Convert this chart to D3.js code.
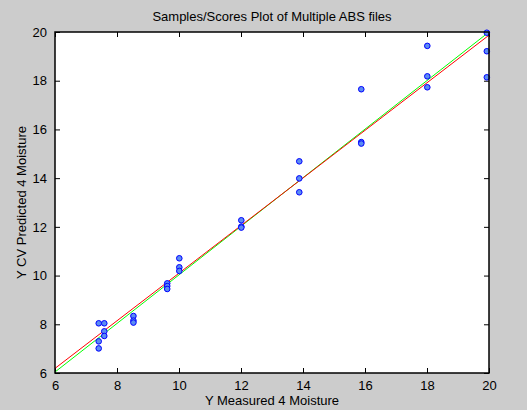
<!DOCTYPE html>
<html>
<head>
<meta charset="utf-8">
<script src="https://cdn.jsdelivr.net/npm/d3@7"></script>
<style>
  body { margin: 0; background: #cccccc; }
  svg text { font-family: "Liberation Sans", Arial, sans-serif; fill: #000; }
</style>
</head>
<body>
<svg id="scores" width="527" height="410"></svg>
<script>
// measured vs CV predicted moisture, 3 replicates per sample
const measured = [
  7.41, 7.41, 7.41,
  7.59, 7.59, 7.59,
  8.53, 8.53, 8.53,
  9.62, 9.62, 9.62,
  10.01, 10.01, 10.01,
  12.01, 12.01, 12.01,
  13.88, 13.88, 13.88,
  15.88, 15.88, 15.88,
  18.01, 18.01, 18.01,
  19.93, 19.93, 19.93
];
const predicted = [
  8.04, 7.30, 7.01,
  8.04, 7.71, 7.52,
  8.34, 8.15, 8.07,
  9.68, 9.57, 9.45,
  10.71, 10.34, 10.19,
  12.27, 12.01, 11.97,
  14.69, 13.99, 13.42,
  17.65, 15.48, 15.42,
  19.43, 18.18, 17.73,
  19.97, 19.21, 18.14
];
// reference lines (x ends, y ends)
const lineX = [6, 20];
const greenY = [6.04, 20.0];
const redY = [6.19, 19.87];
const ticks = [6, 8, 10, 12, 14, 16, 18, 20];

const svg = d3.select("svg#scores");
const margins = { top: 32, right: 38, bottom: 37, left: 55 };
const width = +svg.attr("width");
const height = +svg.attr("height");
const chartWidth = width - margins.left - margins.right;
const chartHeight = height - margins.top - margins.bottom;

const xScale = d3.scaleLinear().domain([6, 20]).range([0, chartWidth]);
const yScale = d3.scaleLinear().domain([6, 20]).range([chartHeight, 0]);

const chart = svg.append("g")
  .attr("transform", `translate(${margins.left},${margins.top})`);

chart.append("rect")
  .attr("width", chartWidth)
  .attr("height", chartHeight)
  .attr("fill", "white");

chart.append("clipPath").attr("id", "clip")
  .append("rect").attr("width", chartWidth).attr("height", chartHeight);

// axes, ticks pointing inward on all four sides
function styleAxis(g) {
  g.select(".domain").remove();
  g.selectAll("line").attr("stroke", "black");
  g.selectAll("text").attr("font-size", 13);
}
chart.append("g")
  .attr("transform", `translate(0,${chartHeight})`)
  .call(d3.axisBottom(xScale).tickValues(ticks).tickSizeInner(-5).tickSizeOuter(0).tickPadding(8))
  .call(styleAxis);
chart.append("g")
  .call(d3.axisTop(xScale).tickValues(ticks).tickSizeInner(-5).tickSizeOuter(0).tickFormat(""))
  .call(styleAxis);
chart.append("g")
  .call(d3.axisLeft(yScale).tickValues(ticks).tickSizeInner(-5).tickSizeOuter(0).tickPadding(8))
  .call(styleAxis);
chart.append("g")
  .attr("transform", `translate(${chartWidth},0)`)
  .call(d3.axisRight(yScale).tickValues(ticks).tickSizeInner(-5).tickSizeOuter(0).tickFormat(""))
  .call(styleAxis);

const lineGen = d3.line().x(d => xScale(d[0])).y(d => yScale(d[1]));
const lines = chart.append("g").attr("clip-path", "url(#clip)");
lines.append("path")
  .attr("d", lineGen(d3.zip(lineX, greenY)))
  .attr("stroke", "#00ff00").attr("fill", "none").attr("stroke-width", 1);
lines.append("path")
  .attr("d", lineGen(d3.zip(lineX, redY)))
  .attr("stroke", "#ff0000").attr("fill", "none").attr("stroke-width", 1);

// sample points
chart.append("g").selectAll("circle")
  .data(d3.zip(measured, predicted))
  .join("circle")
  .attr("cx", d => xScale(d[0]))
  .attr("cy", d => yScale(d[1]))
  .attr("r", 2.8)
  .attr("fill", "#5b8cf2")
  .attr("stroke", "#0000ff")
  .attr("stroke-width", 1);

chart.append("rect")
  .attr("width", chartWidth)
  .attr("height", chartHeight)
  .attr("fill", "none")
  .attr("stroke", "black")
  .attr("stroke-width", 1.5);

// labels
svg.append("text")
  .text("Samples/Scores Plot of Multiple ABS files")
  .attr("x", margins.left + chartWidth / 2)
  .attr("y", 21)
  .attr("text-anchor", "middle")
  .attr("font-size", 13);

svg.append("text")
  .text("Y Measured 4 Moisture")
  .attr("x", margins.left + chartWidth / 2)
  .attr("y", 405)
  .attr("text-anchor", "middle")
  .attr("font-size", 13);

svg.append("text")
  .text("Y CV Predicted 4 Moisture")
  .attr("transform", `translate(26,${margins.top + chartHeight / 2}) rotate(-90)`)
  .attr("text-anchor", "middle")
  .attr("font-size", 13);
</script>
</body>
</html>
